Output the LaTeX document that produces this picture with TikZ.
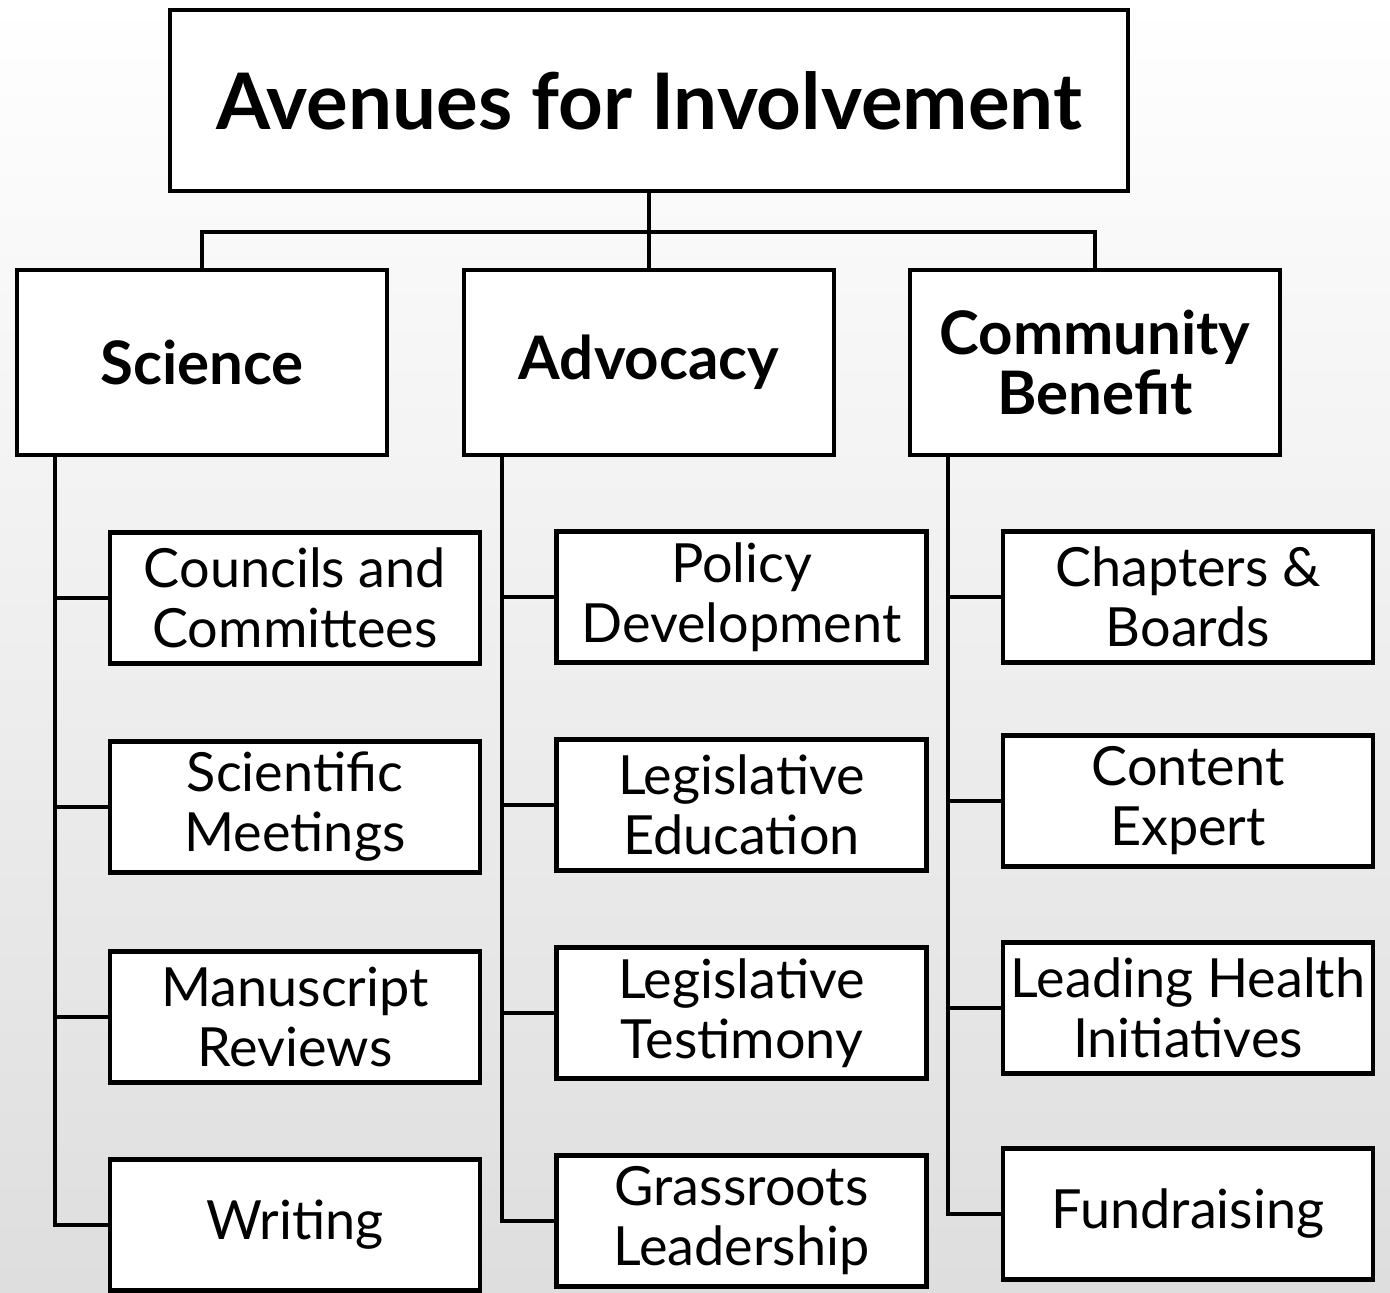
\documentclass[tikz,border=0pt]{standalone}
\usepackage{fontspec}
\setmainfont{Lato}
\usetikzlibrary{positioning}
\tikzset{%
	topbox/.style  = {draw, line width=2.2pt, fill=white, inner sep=0pt, minimum width=479pt, minimum height=90.5pt, font=\fontsize{39}{44}\selectfont\bfseries},
	catbox/.style  = {draw, line width=2.2pt, fill=white, inner sep=0pt, minimum width=185pt, minimum height=92.5pt, align=center, font=\fontsize{30}{30}\selectfont\bfseries},
	itembox/.style = {draw, line width=2.2pt, fill=white, inner sep=0pt, minimum width=185pt, minimum height=65.5pt, align=center, font=\fontsize{27}{30}\selectfont},
	link/.style    = {line width=2.2pt},
}

\begin{document}
\begin{tikzpicture}[x=0.5pt,y=-0.5pt]
	\shade[top color=white, bottom color=black!13] (0,0) rectangle (1390,1292);  % background
	\useasboundingbox (0,0) rectangle (1390,1292);
	
	\node[topbox] (top) at (649,100.5) {Avenues for Involvement};
	
	\node[catbox] (sci) at (202,362.5) {Science};
	\node[catbox] (adv) at (649,362.5) {Advocacy};
	\node[catbox] (com) at (1095,362.5) {Community\\Benefit};
	
	\coordinate (bus) at (649,232);
	\draw[link] (top) -- (bus);
	\draw[link] (sci.north) |- (bus) -| (com.north);
	\draw[link] (bus) -- (adv.north);
	
	% Science column
	\node[itembox] (sci1) at (295,598) {Councils and\\Committees};
	\node[itembox] (sci2) at (295,807) {Scientific\\Meetings};
	\node[itembox] (sci3) at (295,1017) {Manuscript\\Reviews};
	\node[itembox] (sci4) at (295,1225) {Writing};
	
	% Advocacy column
	\node[itembox] (adv1) at (741.5,597) {Policy\\Development};
	\node[itembox] (adv2) at (741.5,805) {Legislative\\Education};
	\node[itembox] (adv3) at (741.5,1013) {Legislative\\Testimony};
	\node[itembox] (adv4) at (741.5,1221) {Grassroots\\Leadership};
	
	% Community column
	\node[itembox] (com1) at (1188,597) {Chapters \&\\Boards};
	\node[itembox] (com2) at (1188,801) {Content\\Expert};
	\node[itembox] (com3) at (1188,1008) {Leading Health\\Initiatives};
	\node[itembox] (com4) at (1188,1214) {Fundraising};
	
	\coordinate (sciS) at (55,455);
	\coordinate (advS) at (502,455);
	\coordinate (comS) at (948,455);
	
	\foreach \c in {sci,adv,com}{
		\draw[link] (\c S) |- (\c4.west);
		\foreach \i in {1,2,3}
			\draw[link] (\c S |- \c\i.west) -- (\c\i.west);
	}
\end{tikzpicture}
\end{document}
